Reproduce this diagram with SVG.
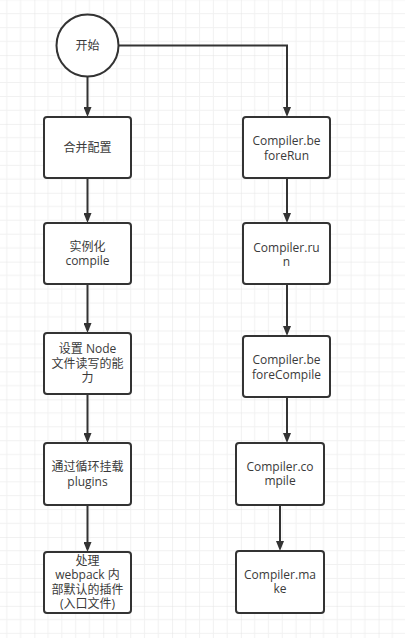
<svg xmlns="http://www.w3.org/2000/svg" width="405" height="638" viewBox="0 0 405 638">
<defs>
<pattern id="grid" patternUnits="userSpaceOnUse" width="68.85" height="68.85" patternTransform="translate(34.34 55.08)">
<path d="M13.77,0V68.85M27.54,0V68.85M41.31,0V68.85M55.08,0V68.85M0,13.77H68.85M0,27.54H68.85M0,41.31H68.85M0,55.08H68.85" stroke="#f1f1f1" stroke-width="1" fill="none"/>
<path d="M0,0V68.85M0,0H68.85" stroke="#e3e3e3" stroke-width="1" fill="none"/>
</pattern>
<marker id="ah" viewBox="0 0 10 8" refX="7" refY="4" markerWidth="10" markerHeight="8" markerUnits="userSpaceOnUse" orient="auto">
<path d="M0,0 L10,4 L0,8 z" fill="#333"/>
</marker>
<style>
.node{fill:#fff;stroke:#333;stroke-width:2}
.t{font-family:"Open Sans","Noto Sans CJK SC",sans-serif;font-size:12px;fill:#3a3a3a;text-anchor:middle}
.c{fill:none;stroke:#333;stroke-width:2;marker-end:url(#ah)}
</style>
</defs>
<rect width="405" height="638" fill="#fff"/>
<rect width="405" height="638" fill="url(#grid)"/>

<g id="connectors">
<path class="c" d="M87.5,76.5V114"/>
<path class="c" d="M118.5,45.5H287V114"/>
<path class="c" d="M87.5,178V220"/>
<path class="c" d="M87.5,284V330"/>
<path class="c" d="M87.5,394V440"/>
<path class="c" d="M87.5,505V549"/>
<path class="c" d="M287,178V220"/>
<path class="c" d="M287,284V333"/>
<path class="c" d="M287,397V440"/>
<path class="c" d="M280,505V548"/>
</g>

<g id="start">
<circle class="node" cx="87.5" cy="45.5" r="31"/>
<text class="t" x="87.5" y="50">开始</text>
</g>

<g id="merge">
<rect class="node" x="44" y="117" width="87" height="61" rx="3"/>
<text class="t" x="87.5" y="152">合并配置</text>
</g>

<g id="instantiate">
<rect class="node" x="44" y="223" width="87" height="61" rx="3"/>
<text class="t" x="87.5" y="251">实例化<tspan x="87.5" dy="14">compile</tspan></text>
</g>

<g id="nodefs">
<rect class="node" x="44" y="333" width="87" height="61" rx="3"/>
<text class="t" x="87.5" y="352.5">设置 Node<tspan x="87.5" dy="15">文件读写的能</tspan><tspan x="87.5" dy="14">力</tspan></text>
</g>

<g id="plugins">
<rect class="node" x="44" y="443" width="87" height="62" rx="3"/>
<text class="t" x="87.5" y="471">通过循环挂载<tspan x="87.5" dy="14.5">plugins</tspan></text>
</g>

<g id="internal">
<rect class="node" x="44" y="552" width="87" height="61" rx="3"/>
<text class="t" x="87.5" y="565">处理<tspan x="87.5" dy="14">webpack 内</tspan><tspan x="87.5" dy="14.5">部默认的插件</tspan><tspan x="87.5" dy="14">(入口文件)</tspan></text>
</g>

<g id="beforeRun">
<rect class="node" x="243" y="117" width="87" height="61" rx="3"/>
<text class="t" x="286.5" y="145">Compiler.be<tspan x="286.5" dy="14.5">foreRun</tspan></text>
</g>

<g id="run">
<rect class="node" x="243" y="223" width="87" height="61" rx="3"/>
<text class="t" x="286.5" y="251.5">Compiler.ru<tspan x="286.5" dy="14.5">n</tspan></text>
</g>

<g id="beforeCompile">
<rect class="node" x="243" y="336" width="87" height="61" rx="3"/>
<text class="t" x="286.5" y="364">Compiler.be<tspan x="286.5" dy="14.5">foreCompile</tspan></text>
</g>

<g id="compile">
<rect class="node" x="236" y="443" width="88" height="62" rx="3"/>
<text class="t" x="280" y="471">Compiler.co<tspan x="280" dy="14">mpile</tspan></text>
</g>

<g id="make">
<rect class="node" x="236" y="551" width="88" height="62" rx="3"/>
<text class="t" x="280" y="579">Compiler.ma<tspan x="280" dy="14">ke</tspan></text>
</g>
</svg>
